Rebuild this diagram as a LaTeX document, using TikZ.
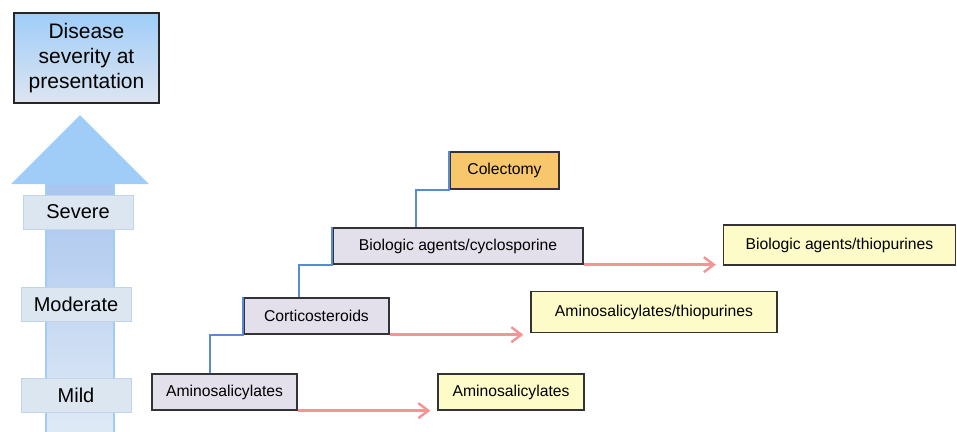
\documentclass[tikz,border=0pt]{standalone}
\usepackage{fontspec}
\setmainfont{Liberation Sans}
\usetikzlibrary{arrows.meta}

\definecolor{headblue}{HTML}{9FCDF8}
\definecolor{shafttop}{HTML}{A9C5EE}
\definecolor{shaftbot}{HTML}{E0EAF6}
\definecolor{titlebot}{HTML}{DDE5F0}
\definecolor{levelfill}{HTML}{DCE6F1}
\definecolor{levelline}{HTML}{C2D4EA}
\definecolor{treatfill}{HTML}{E3DFEB}
\definecolor{optfill}{HTML}{FDFCC8}
\definecolor{surgfill}{HTML}{F9C76B}
\definecolor{stepblue}{HTML}{5A8AD0}
\definecolor{maintpink}{HTML}{F49494}

\tikzset{
  levelbox/.style={draw=levelline, line width=1pt, fill=levelfill, minimum height=34pt,
    minimum width=110pt, inner sep=0pt, font=\fontsize{20}{24}\selectfont},
  treatbox/.style={draw=black!80, line width=1.3pt, fill=treatfill, minimum height=36pt,
    inner sep=0pt, font=\fontsize{15.7}{18}\selectfont},
  optbox/.style={treatbox, fill=optfill},
  surgbox/.style={treatbox, fill=surgfill},
  stepline/.style={draw=stepblue, line width=1.8pt},
  maintarrow/.style={draw=maintpink, line width=2.4pt, shorten >=7pt,
    -{Straight Barb[length=10pt,width=15pt,line width=2.4pt]}}
}

\begin{document}
\begin{tikzpicture}[x=1pt, y=-1pt]

    % Fix the page to the reference size
    \useasboundingbox (0,0) rectangle (957,431);

    % Draw the severity arrow
    \shade[top color=shafttop, bottom color=shaftbot, draw=headblue, line width=2pt]
      (46,184) rectangle (114,434);
    \fill[headblue] (11,184) -- (80,115) -- (149,184) -- cycle;

    % Title box
    \node[draw=black!85, line width=1.3pt, top color=headblue, bottom color=titlebot,
      minimum width=145pt, minimum height=90pt, align=center,
      font=\fontsize{21}{25}\selectfont] (title) at (86.5,58)
      {Disease\\severity at\\presentation};

    % Severity levels
    \node[levelbox] (severe) at (78,212) {Severe};
    \node[levelbox] (moderate) at (76,304) {Moderate};
    \node[levelbox] (mild) at (76,395) {Mild};

    % Treatment steps
    \node[treatbox, minimum width=145pt] (amino) at (224.5,392) {Aminosalicylates};
    \node[treatbox, minimum width=145pt] (cortico) at (316.5,316) {Corticosteroids};
    \node[treatbox, minimum width=250pt] (bio) at (458,246) {Biologic agents/cyclosporine};
    \node[surgbox, minimum width=109pt, minimum height=37pt] (colect) at (504.5,170.5) {Colectomy};

    % Maintenance options
    \node[optbox, minimum width=146pt] (aminomaint) at (511,392) {Aminosalicylates};
    \node[optbox, minimum width=246pt, minimum height=41pt] (aminothio) at (654,312) {Aminosalicylates/thiopurines};
    \node[optbox, minimum width=232pt, minimum height=40pt] (biothio) at (839.5,245) {Biologic agents/thiopurines};

    % Step-up connectors
    \draw[stepline] ([xshift=-14.5pt]amino.north) |- (cortico.south west) -- (cortico.north west);
    \draw[stepline] ([xshift=-17.5pt]cortico.north) |- (bio.south west) -- (bio.north west);
    \draw[stepline] ([xshift=-42pt]bio.north) |- (colect.south west) -- (colect.north west);

    % Maintenance arrows
    \draw[maintarrow] (amino.south east) -- (amino.south east -| aminomaint.west);
    \draw[maintarrow] (cortico.south east) -- (cortico.south east -| aminothio.west);
    \draw[maintarrow] (bio.south east) -- (bio.south east -| biothio.west);

\end{tikzpicture}
\end{document}
